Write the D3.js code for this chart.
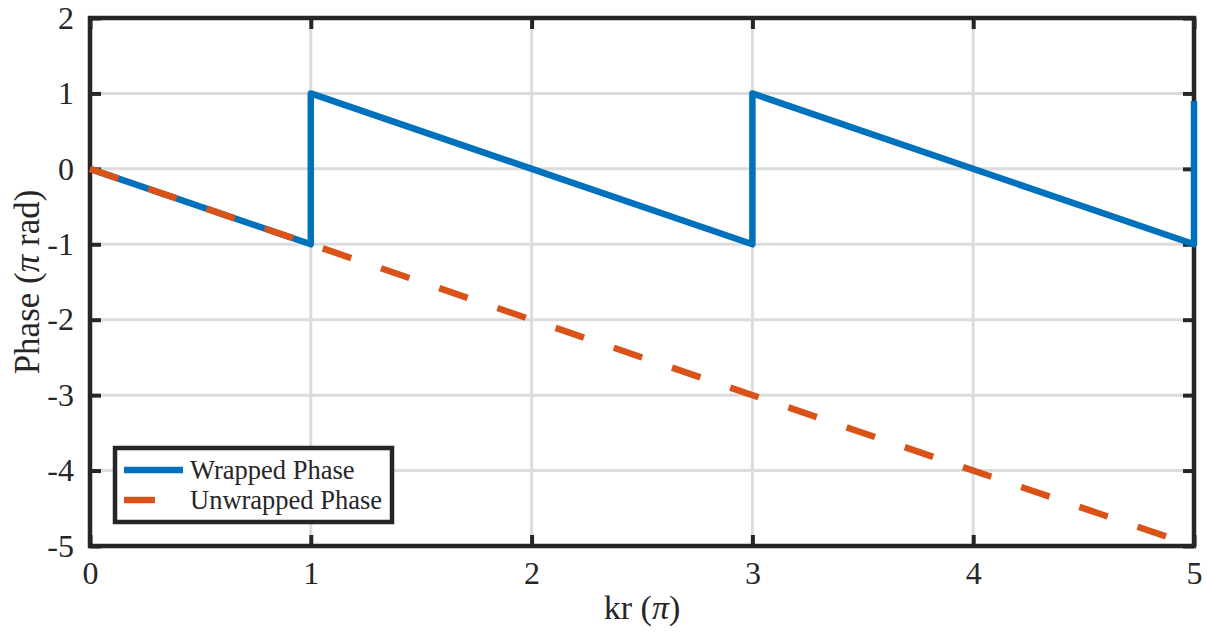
<!DOCTYPE html>
<html>
<head>
<meta charset="utf-8">
<script src="https://cdn.jsdelivr.net/npm/d3@7/dist/d3.min.js"></script>
<style>
  html, body { margin: 0; padding: 0; background: #fff; }
  svg { display: block; }
  text { font-family: "Liberation Serif", "Times New Roman", serif; fill: #262626; }
</style>
</head>
<body>
<svg id="chart" width="1207" height="636"></svg>
<script>
// ---- data ----
const xTicks = [0, 1, 2, 3, 4, 5];
const yTicks = [-5, -4, -3, -2, -1, 0, 1, 2];
const wrappedX = [0, 1, 1, 3, 3, 5, 5];
const wrappedY = [0, -1, 1, -1, 1, -1, 0.9];
const unwrappedX = [0, 5];
const unwrappedY = [0, -5];
const seriesNames = ["Wrapped Phase", "Unwrapped Phase"];
const seriesColors = ["#0072BD", "#D95319"];
const xLabelParts = ["kr (", "π", ")"];
const yLabelParts = ["Phase (", "π", " rad)"];

// ---- layout ----
const W = 1207, H = 636;
const m = { left: 90, right: 13, top: 18, bottom: 90 };
const pw = W - m.left - m.right, ph = H - m.top - m.bottom;

const svg = d3.select("#chart");
const x = d3.scaleLinear().domain([0, 5]).range([m.left, m.left + pw]);
const y = d3.scaleLinear().domain([-5, 2]).range([m.top + ph, m.top]);

// grid
const g = svg.append("g");
g.selectAll(".gx").data(xTicks.slice(1, -1)).join("line")
  .attr("x1", d => x(d)).attr("x2", d => x(d))
  .attr("y1", m.top).attr("y2", m.top + ph)
  .attr("stroke", "#dcdcdc").attr("stroke-width", 3);
g.selectAll(".gy").data(yTicks.slice(1, -1)).join("line")
  .attr("x1", m.left).attr("x2", m.left + pw)
  .attr("y1", d => y(d)).attr("y2", d => y(d))
  .attr("stroke", "#dcdcdc").attr("stroke-width", 3);

// axes via d3 axis (inward ticks)
const tickLen = 11;
const fmt = d => String(d);
const axB = svg.append("g").attr("transform", `translate(0,${m.top + ph})`)
  .call(d3.axisBottom(x).tickValues(xTicks).tickSize(-tickLen).tickPadding(18).tickFormat(fmt));
const axT = svg.append("g").attr("transform", `translate(0,${m.top})`)
  .call(d3.axisTop(x).tickValues(xTicks).tickSize(-tickLen).tickFormat(""));
const axL = svg.append("g").attr("transform", `translate(${m.left},0)`)
  .call(d3.axisLeft(y).tickValues(yTicks).tickSize(-tickLen).tickPadding(16).tickFormat(fmt));
const axR = svg.append("g").attr("transform", `translate(${m.left + pw},0)`)
  .call(d3.axisRight(y).tickValues(yTicks).tickSize(-tickLen).tickFormat(""));
[axB, axT, axL, axR].forEach(a => {
  a.select(".domain").remove();
  a.selectAll(".tick line").attr("stroke", "#262626").attr("stroke-width", 4);
  a.selectAll(".tick text").attr("font-size", 32).attr("fill", "#262626")
    .style("font-family", '"Liberation Serif", serif');
});
axB.selectAll(".tick text").attr("dy", "0.62em");

// frame
svg.append("rect").attr("x", m.left).attr("y", m.top).attr("width", pw).attr("height", ph)
  .attr("fill", "none").attr("stroke", "#262626").attr("stroke-width", 4.5);

// lines
const line = d3.line().x(d => x(d[0])).y(d => y(d[1]));
svg.append("path").datum(wrappedX.map((v, i) => [v, wrappedY[i]]))
  .attr("d", line).attr("fill", "none").attr("stroke", seriesColors[0])
  .attr("stroke-width", 6.5).attr("stroke-linejoin", "round");
svg.append("path").datum(unwrappedX.map((v, i) => [v, unwrappedY[i]]))
  .attr("d", line).attr("fill", "none").attr("stroke", seriesColors[1])
  .attr("stroke-width", 6.5).attr("stroke-dasharray", "30,31.5");

// axis labels
function addLabel(parts, el) {
  parts.forEach((p, i) => {
    el.append("tspan").attr("font-style", i === 1 ? "italic" : "normal").text(p);
  });
}
const xl = svg.append("text").attr("x", x(2.5)).attr("y", 619).attr("text-anchor", "middle")
  .attr("font-size", 34);
addLabel(xLabelParts, xl);
const yl = svg.append("text").attr("transform", `translate(39,${m.top + ph / 2}) rotate(-90)`)
  .attr("text-anchor", "middle").attr("font-size", 35);
addLabel(yLabelParts, yl);

// legend
const lg = svg.append("g");
lg.append("rect").attr("x", 115).attr("y", 448).attr("width", 277).attr("height", 74)
  .attr("fill", "#fff").attr("stroke", "#262626").attr("stroke-width", 4.5);
const legY = [470, 500];
seriesNames.forEach((n, i) => {
  lg.append("line").attr("x1", 124).attr("x2", i === 0 ? 183 : 155)
    .attr("y1", legY[i]).attr("y2", legY[i])
    .attr("stroke", seriesColors[i]).attr("stroke-width", 6.5);
  lg.append("text").attr("x", 190).attr("y", legY[i]).attr("dy", "0.35em")
    .attr("font-size", 26.5).text(n);
});
</script>
</body>
</html>
